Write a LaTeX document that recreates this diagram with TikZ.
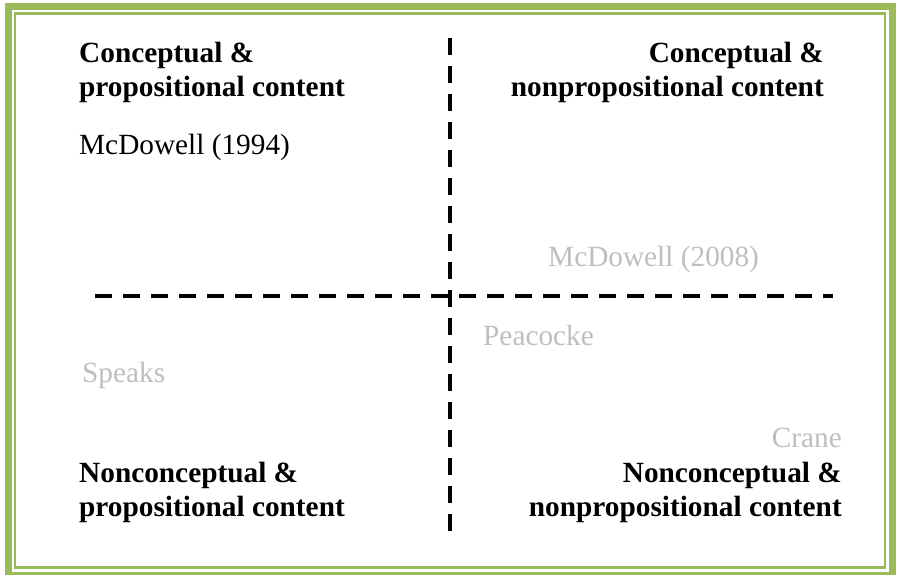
\documentclass[tikz,border=0pt]{standalone}
\usepackage{fontspec}
\setmainfont{Liberation Serif}
\definecolor{framegreen}{HTML}{9BBB59}
\definecolor{lightgray}{HTML}{BFBFBF}
\tikzset{
  hd/.style={font=\fontsize{29.3}{34}\selectfont\bfseries, inner sep=0pt, text=black},
  nm/.style={font=\fontsize{29.3}{34}\selectfont, inner sep=0pt, text=black},
  gr/.style={font=\fontsize{29.3}{34}\selectfont, inner sep=0pt, text=lightgray},
  axis/.style={line width=4pt, dash pattern=on 16.7pt off 11.3pt, line cap=butt},
}
\begin{document}
\begin{tikzpicture}[x=1pt,y=-1pt]
\useasboundingbox (0,0) rectangle (900,575);
\fill[white] (0,0) rectangle (900,575);
% frame
\draw[framegreen, line width=7pt] (8,7) rectangle (892,575);
\draw[framegreen, line width=2.5pt] (15,13.5) rectangle (885,567.5);
% axes
\coordinate (hs) at (95,296);
\coordinate (he) at (833,296);
\coordinate (vs) at (449.5,38);
\coordinate (ve) at (449.5,531);
\draw[axis] (hs) -- (he);
\draw[axis] (vs) -- (ve);
% top left
\node[hd, anchor=base west] (tl1) at (79,63) {Conceptual \&};
\node[hd, anchor=base west] (tl2) at (79,97) {propositional content};
\node[nm, anchor=base west] (mc94) at (79,155) {McDowell (1994)};
% top right
\node[hd, anchor=base east] (tr1) at (824,63) {Conceptual \&};
\node[hd, anchor=base east] (tr2) at (824,97) {nonpropositional content};
\node[gr, anchor=base west] (mc08) at (548,266) {McDowell (2008)};
% bottom
\node[gr, anchor=base west] (pea) at (483,345) {Peacocke};
\node[gr, anchor=base west] (spk) at (82,382) {Speaks};
\node[gr, anchor=base east] (crn) at (842,447) {Crane};
\node[hd, anchor=base west] (bl1) at (79,482) {Nonconceptual \&};
\node[hd, anchor=base west] (bl2) at (79,516) {propositional content};
\node[hd, anchor=base east] (br1) at (842,482) {Nonconceptual \&};
\node[hd, anchor=base east] (br2) at (842,516) {nonpropositional content};
\end{tikzpicture}
\end{document}
